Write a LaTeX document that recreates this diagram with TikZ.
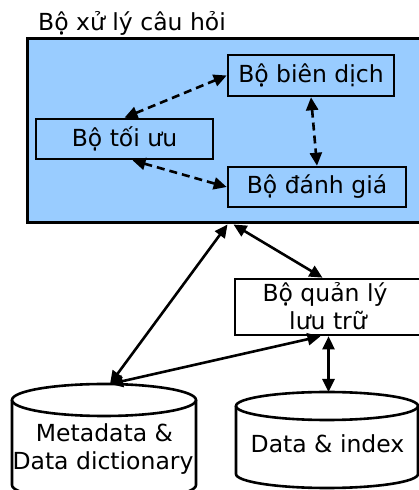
\documentclass[tikz,border=0pt]{standalone}
\usepackage{fontspec}
\setmainfont{DejaVu Sans}
\usetikzlibrary{arrows.meta}
\definecolor{qpblue}{HTML}{99CCFF}
\begin{document}
\begin{tikzpicture}[x=1pt,y=1pt,
  txt/.style={font=\fontsize{23.5}{28}\selectfont, inner sep=0pt},
  box/.style={draw, line width=2.6pt, inner sep=0pt},
  link/.style={line width=2.6pt, {Triangle[length=13pt,width=12pt]}-{Triangle[length=13pt,width=12pt]}},
  dlink/.style={link, dash pattern=on 8pt off 5pt},
  cyl/.style={line width=2.6pt},
]
\useasboundingbox (0,0) rectangle (418,490);
\node[txt, anchor=base west] (title) at (38,459) {Bộ xử lý câu hỏi};
\node[box, fill=qpblue, line width=3pt, minimum width=395, minimum height=184] (qp) at (224.5,359) {};
\node[box, txt, fill=qpblue, minimum width=166, minimum height=41] (bd) at (311,414.5) {Bộ biên dịch};
\node[box, txt, fill=qpblue, minimum width=177, minimum height=40] (tu) at (124.5,351) {Bộ tối ưu};
\node[box, txt, fill=qpblue, minimum width=178, minimum height=40] (dg) at (317,303) {Bộ đánh giá};
\node[box, minimum width=187, minimum height=56] (sm) at (328.5,183) {};
\node[txt, anchor=base] (sm1) at (325,188) {Bộ quản lý};
\node[txt, anchor=base] (sm2) at (328,160) {lưu trữ};
% Metadata cylinder
\draw[cyl, fill=white] (12,90) -- (12,5) arc[start angle=180, end angle=360, x radius=92, y radius=16] -- (196,90);
\draw[cyl] (104,90) ellipse [x radius=92, y radius=16];
\coordinate (mdtop) at (110,106);
\node[txt, anchor=base] (md1) at (104.5,48) {Metadata \&};
\node[txt, anchor=base] (md2) at (103,20) {Data dictionary};
% Data & index cylinder
\draw[cyl, fill=white] (236,84) -- (236,16) arc[start angle=180, end angle=360, x radius=91, y radius=14] -- (418,84);
\draw[cyl] (327,84) ellipse [x radius=91, y radius=14];
\coordinate (ditop) at (328.5,98);
\node[txt, anchor=base] (di) at (327.5,37) {Data \& index};
% connectors
\draw[dlink] (tu.north) -- (bd.west);
\draw[dlink] ([xshift=8pt]tu.south) -- (dg.west);
\draw[dlink] (bd.south) -- (dg.north);
\draw[link] ([xshift=3pt]qp.south) -- (mdtop);
\draw[link] ([xshift=9pt]qp.south) -- ([xshift=-6pt]sm.north);
\draw[link] (mdtop) -- ([xshift=-8pt]sm.south);
\draw[link] (sm.south) -- (ditop);
\end{tikzpicture}
\end{document}
